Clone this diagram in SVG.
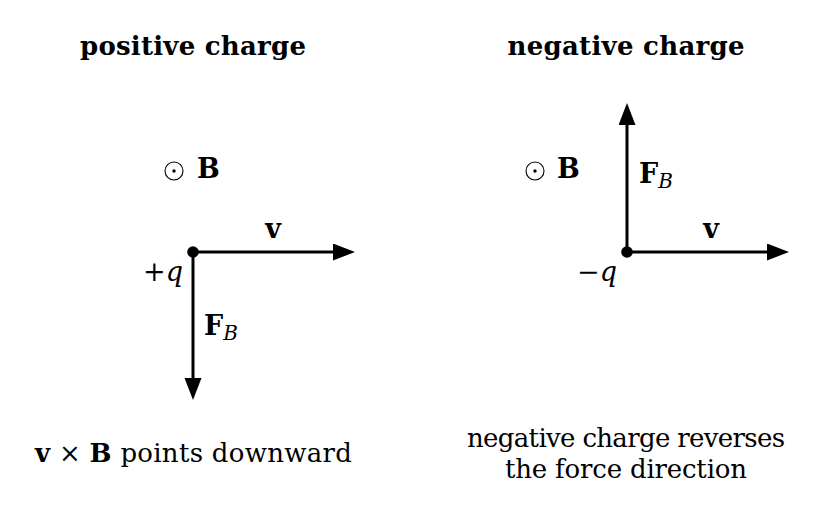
<svg xmlns="http://www.w3.org/2000/svg" width="821" height="519" viewBox="0 0 821 519">
<defs>
<style>
text{font-family:"DejaVu Serif","Liberation Serif",serif;fill:#000;font-size:26px}
.b{font-weight:bold}
.i{font-style:italic}
.lab{font-size:27px}
.sub{font-style:italic;font-weight:normal;font-size:20px}
.vec{stroke:#000;stroke-width:3;fill:none}
.odot{stroke:#000;stroke-width:1.1;fill:none}
</style>
<marker id="ah" markerUnits="userSpaceOnUse" markerWidth="24" markerHeight="18" refX="5" refY="8.5" orient="auto">
<path d="M0,0 L22,8.5 L0,17 z" fill="#000"/>
</marker>
</defs>
<rect width="821" height="519" fill="#fff"/>

<g id="titles">
<text class="b" x="193" y="55" text-anchor="middle" textLength="226" lengthAdjust="spacing">positive charge</text>
<text class="b" x="626" y="55" text-anchor="middle" textLength="237" lengthAdjust="spacing">negative charge</text>
</g>

<g id="connectors">
<line class="vec" x1="193" y1="252" x2="338" y2="252" marker-end="url(#ah)"/>
<line class="vec" x1="193" y1="252" x2="193" y2="383" marker-end="url(#ah)"/>
<line class="vec" x1="627" y1="252" x2="772" y2="252" marker-end="url(#ah)"/>
<line class="vec" x1="627" y1="252" x2="627" y2="120" marker-end="url(#ah)"/>
</g>

<g id="field-left">
<circle class="odot" cx="174" cy="171" r="9"/>
<circle cx="174" cy="171" r="1.7" fill="#000"/>
<text class="b lab" x="197" y="178">B</text>
</g>

<g id="charge-pos">
<circle cx="193" cy="252" r="5.8" fill="#000"/>
<text class="lab" x="143" y="281">+<tspan class="i">q</tspan></text>
</g>

<g id="label-v-left">
<text class="b lab" x="273" y="238" text-anchor="middle">v</text>
</g>

<g id="label-F-left">
<text class="b lab" x="204" y="335">F<tspan class="sub" dy="5">B</tspan></text>
</g>

<g id="field-right">
<circle class="odot" cx="535" cy="171" r="9"/>
<circle cx="535" cy="171" r="1.7" fill="#000"/>
<text class="b lab" x="557" y="178">B</text>
</g>

<g id="charge-neg">
<circle cx="627" cy="252" r="5.8" fill="#000"/>
<text class="lab" x="577" y="281">−<tspan class="i">q</tspan></text>
</g>

<g id="label-v-right">
<text class="b lab" x="711" y="238" text-anchor="middle">v</text>
</g>

<g id="label-F-right">
<text class="b lab" x="639" y="183">F<tspan class="sub" dy="5">B</tspan></text>
</g>

<g id="caption-left">
<text x="35" y="462" textLength="317" lengthAdjust="spacing"><tspan class="b">v</tspan> × <tspan class="b">B</tspan> points downward</text>
</g>

<g id="caption-right">
<text x="626" y="447" text-anchor="middle" textLength="318" lengthAdjust="spacing">negative charge reverses</text>
<text x="626" y="478" text-anchor="middle" textLength="242" lengthAdjust="spacing">the force direction</text>
</g>
</svg>
